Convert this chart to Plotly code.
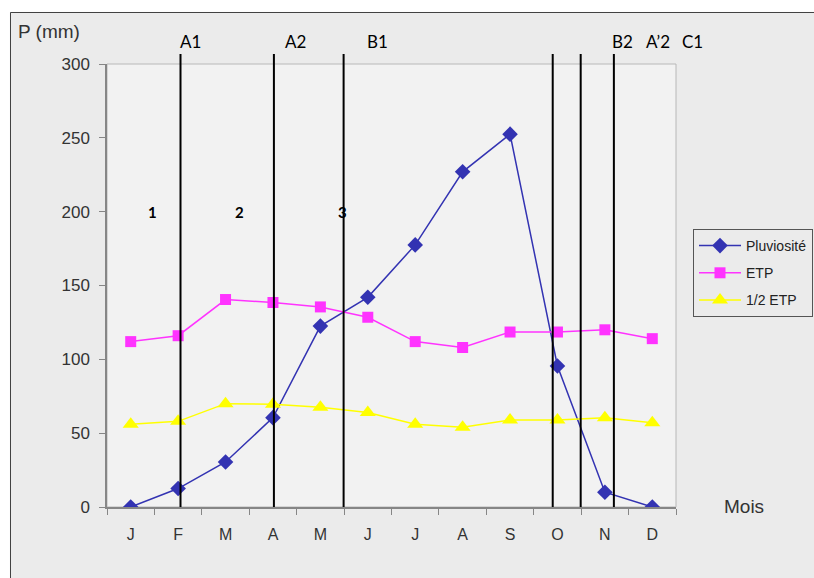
import plotly.graph_objects as go

# Monthly water balance: rainfall vs. potential evapotranspiration
months = ["J", "F", "M", "A", "M", "J", "J", "A", "S", "O", "N", "D"]
pluviosite = [0, 12.5, 30.5, 60.5, 122.5, 142, 177.5, 227, 252.5, 95.5, 10, 0]
etp = [112, 116, 140.5, 138.5, 135.5, 128.5, 112, 108, 118.5, 118.5, 120, 114]
demi_etp = [56, 58, 70, 69.5, 67.5, 64, 56, 54, 59, 59, 60.5, 57]

# Period boundaries (in month-index units) and their labels
boundary_x = [1.05, 3.02, 4.49, 8.9, 9.49, 10.19]
period_labels = ["A1", "A2", "B1", "B2", "A\u20192", "C1"]
period_label_x = [1.27, 3.48, 5.21, 10.38, 11.12, 11.84]
zone_labels = ["1", "2", "3"]
zone_label_x = [0.46, 2.3, 4.47]
zone_label_y = [200, 200, 200]

W, H = 814, 578
L, R, T, B = 107, 138, 64, 71
pw, ph = W - L - R, H - T - B
X0, X1 = -0.5, 11.5


def px_x(p):
    return (p - L) / pw


def px_y(p):
    return (H - B - p) / ph


def idx_to_paper(v):
    return (v - X0) / (X1 - X0)


xi = list(range(len(months)))

fig = go.Figure()
fig.add_trace(go.Scatter(
    x=xi, y=pluviosite, name="Pluviosité", mode="lines+markers", legendgroup="p",
    line=dict(color="#3333b2", width=1.5),
    marker=dict(symbol="diamond", size=12, color="#3333b2")))
fig.add_trace(go.Scatter(
    x=xi, y=etp, name="ETP", mode="lines+markers", legendgroup="e",
    line=dict(color="#ff33ff", width=1.5),
    marker=dict(symbol="square", size=11, color="#ff33ff")))
fig.add_trace(go.Scatter(
    x=xi, y=demi_etp, name="1/2 ETP", mode="lines+markers", legendgroup="h",
    line=dict(color="#ffff00", width=1.5),
    marker=dict(symbol="triangle-up", size=14, color="#ffff00")))

shapes = []
# white margin above / left of the chart frame
shapes.append(dict(type="rect", xref="paper", yref="paper", layer="above",
                   x0=px_x(-5), x1=px_x(W + 5), y0=px_y(12), y1=px_y(-5),
                   fillcolor="white", line=dict(width=0)))
shapes.append(dict(type="rect", xref="paper", yref="paper", layer="above",
                   x0=px_x(-5), x1=px_x(10), y0=px_y(H + 5), y1=px_y(-5),
                   fillcolor="white", line=dict(width=0)))
shapes.append(dict(type="path", xref="paper", yref="paper", layer="above",
                   path="M %f,%f L %f,%f L %f,%f" % (px_x(10.5), px_y(H + 5), px_x(10.5), px_y(12.5),
                                                  px_x(W + 5), px_y(12.5)),
                   line=dict(color="#404040", width=1)))
# plot-area frame
shapes.append(dict(type="rect", xref="paper", yref="paper", layer="below",
                   x0=0, x1=1, y0=0, y1=1, line=dict(color="#b8b8b8", width=1)))
for bx in boundary_x:
    shapes.append(dict(type="line", xref="x", yref="paper", layer="above",
                       x0=bx, x1=bx, y0=0, y1=px_y(54),
                       line=dict(color="black", width=2)))

annotations = []
for lab, lx in zip(period_labels, period_label_x):
    annotations.append(dict(text=lab, x=idx_to_paper(lx), y=px_y(41), xref="paper", yref="paper",
                            xanchor="center", yanchor="middle", showarrow=False,
                            font=dict(family="Lato", size=17, color="black")))
for lab, lx, ly in zip(zone_labels, zone_label_x, zone_label_y):
    annotations.append(dict(text="<b>" + lab + "</b>", x=lx, y=ly, xref="x", yref="y",
                            xanchor="center", yanchor="middle", showarrow=False,
                            font=dict(family="Lato", size=15, color="black")))
annotations.append(dict(text="P (mm)", x=px_x(49), y=px_y(31), xref="paper", yref="paper",
                        xanchor="center", yanchor="middle", showarrow=False,
                        font=dict(family="Liberation Sans", size=19, color="#333333")))
annotations.append(dict(text="Mois", x=px_x(744), y=px_y(506), xref="paper", yref="paper",
                        xanchor="center", yanchor="middle", showarrow=False,
                        font=dict(family="Liberation Sans", size=19, color="#333333")))

fig.update_layout(
    width=W, height=H,
    margin=dict(l=L, r=R, t=T, b=B, autoexpand=False),
    paper_bgcolor="#ebebeb",
    plot_bgcolor="#f2f2f2",
    font=dict(family="Liberation Sans", size=13, color="#333333"),
    shapes=shapes,
    annotations=annotations,
    legend=dict(x=px_x(693), y=px_y(229), xanchor="left", yanchor="top",
                bgcolor="#ebebeb", bordercolor="#555555", borderwidth=1,
                font=dict(size=14, color="#222222"), tracegroupgap=6,
                itemwidth=42),
    xaxis=dict(
        range=[X0, X1], tickvals=xi, ticktext=months,
        ticks="outside", ticklen=12, tickcolor="rgba(0,0,0,0)",
        showgrid=False, zeroline=False,
        showline=True, linecolor="#868686", linewidth=1.5,
        minor=dict(tickvals=[i - 0.5 for i in range(len(months) + 1)],
                   ticks="outside", ticklen=6, tickcolor="#868686", showgrid=False),
        tickfont=dict(size=16, color="#333333"),
    ),
    yaxis=dict(
        range=[0, 300], tickvals=[0, 50, 100, 150, 200, 250, 300],
        ticks="outside", ticklen=6, tickcolor="#868686",
        ticklabelstandoff=6,
        showgrid=False, zeroline=False,
        showline=True, linecolor="#868686", linewidth=1.5,
        tickfont=dict(size=17, color="#333333"),
    ),
)

fig.write_html("out.html")
